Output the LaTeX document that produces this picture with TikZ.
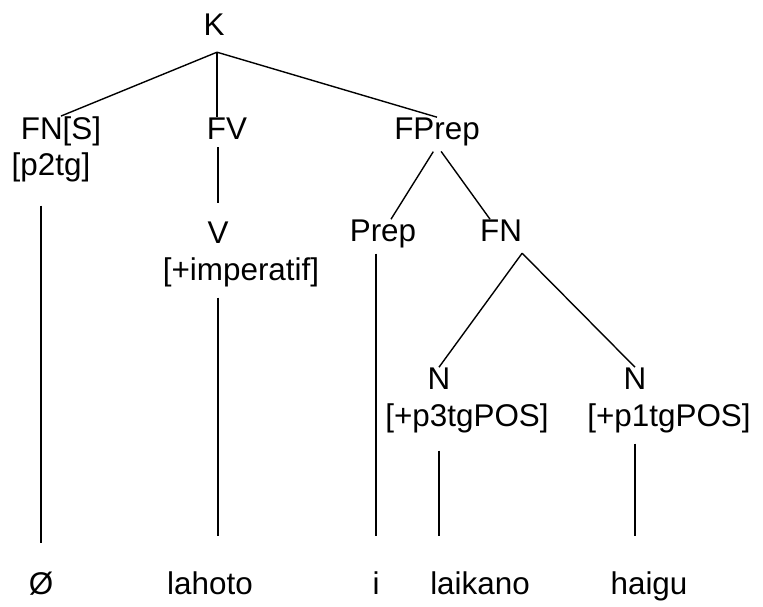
\documentclass[tikz,border=0pt]{standalone}
\usepackage{fontspec}
\setmainfont{Liberation Sans}
\usepackage{tikz}

\begin{document}
\begin{tikzpicture}[x=1pt,y=-1pt]
            \tikzstyle{every node}+=[inner sep=0pt]
            \tikzstyle{lbl}=[anchor=base, font=\fontsize{31.4}{37}\selectfont]
            \tikzstyle{branch}=[black, line width=1.4pt]
            \useasboundingbox (0,0) rectangle (763,606);
            \node [lbl] (K) at (214,35) {K};
            \node [lbl] (FNS) at (61,139) {FN[S]};
            \node [lbl] (p2tg) at (51,175) {[p2tg]};
            \node [lbl] (FV) at (227,139) {FV};
            \node [lbl] (FPrep) at (437,139) {FPrep};
            \node [lbl] (V) at (218,243) {V};
            \node [lbl] (imperatif) at (241,280) {[+imperatif]};
            \node [lbl] (Prep) at (383,241) {Prep};
            \node [lbl] (FNb) at (501,241) {FN};
            \node [lbl] (Na) at (439,389) {N};
            \node [lbl] (p3tg) at (467,426) {[+p3tgPOS]};
            \node [lbl] (Nb) at (635,389) {N};
            \node [lbl] (p1tg) at (669,426) {[+p1tgPOS]};
            \node [lbl] (zero) at (41,594) {Ø};
            \node [lbl] (lahoto) at (210,594) {lahoto};
            \node [lbl] (i) at (376,594) {i};
            \node [lbl] (laikano) at (480,594) {laikano};
            \node [lbl] (haigu) at (649,594) {haigu};
            \coordinate (Kfoot) at ([xshift=3pt,yshift=-17pt]K.south);
            \draw [branch] (Kfoot) -- (FNS.north);
            \draw [branch] (Kfoot) -- (Kfoot |- FV.north);
            \draw [branch] (Kfoot) -- (FPrep.north);
            \draw [branch, shorten <=8pt, shorten >=18pt] (V.north |- FV.south) -- (V.north);
            \draw [branch, shorten <=7pt] (FPrep.south) -- ([xshift=8pt]Prep.north);
            \draw [branch, shorten <=7pt] (FPrep.south) -- ([xshift=-11pt]FNb.north);
            \draw [branch] ([yshift=-12pt]FNb.south east) -- (Na.north);
            \draw [branch] ([yshift=-12pt]FNb.south east) -- (Nb.north);
            \draw [branch, shorten <=24pt, shorten >=28pt] (zero.north |- p2tg.south) -- (zero.north);
            \draw [branch, shorten <=11pt, shorten >=35pt] (V.south |- imperatif.south) -- (V.south |- lahoto.north);
            \draw [branch, shorten <=6pt, shorten >=35pt] (i.north |- Prep.south) -- (i.north);
            \draw [branch, shorten <=18pt, shorten >=35pt] (Na.south |- p3tg.south) -- (Na.south |- laikano.north);
            \draw [branch, shorten <=11pt, shorten >=35pt] (Nb.south |- p1tg.south) -- (Nb.south |- haigu.north);
\end{tikzpicture}
\end{document}
